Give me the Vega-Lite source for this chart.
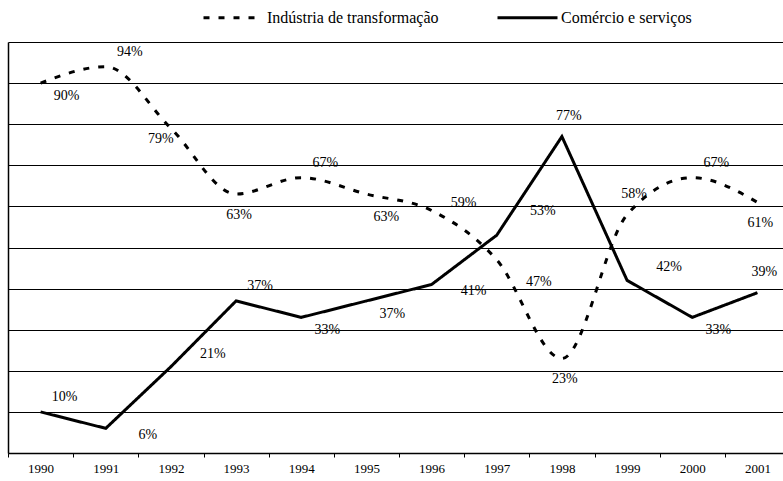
{
  "$schema": "https://vega.github.io/schema/vega-lite/v6.json",
  "width": 775,
  "height": 411,
  "autosize": {"type": "none"},
  "padding": {"left": 8, "top": 42, "right": 0, "bottom": 28},
  "background": "white",
  "config": {"view": {"stroke": null}, "font": "Liberation Serif"},
  "data": {
    "values": [
      {"ano": "1990", "serie": "Indústria de transformação", "v": 0.90},
      {"ano": "1991", "serie": "Indústria de transformação", "v": 0.94},
      {"ano": "1992", "serie": "Indústria de transformação", "v": 0.79},
      {"ano": "1993", "serie": "Indústria de transformação", "v": 0.63},
      {"ano": "1994", "serie": "Indústria de transformação", "v": 0.67},
      {"ano": "1995", "serie": "Indústria de transformação", "v": 0.63},
      {"ano": "1996", "serie": "Indústria de transformação", "v": 0.59},
      {"ano": "1997", "serie": "Indústria de transformação", "v": 0.47},
      {"ano": "1998", "serie": "Indústria de transformação", "v": 0.23},
      {"ano": "1999", "serie": "Indústria de transformação", "v": 0.58},
      {"ano": "2000", "serie": "Indústria de transformação", "v": 0.67},
      {"ano": "2001", "serie": "Indústria de transformação", "v": 0.61},
      {"ano": "1990", "serie": "Comércio e serviços", "v": 0.10},
      {"ano": "1991", "serie": "Comércio e serviços", "v": 0.06},
      {"ano": "1992", "serie": "Comércio e serviços", "v": 0.21},
      {"ano": "1993", "serie": "Comércio e serviços", "v": 0.37},
      {"ano": "1994", "serie": "Comércio e serviços", "v": 0.33},
      {"ano": "1995", "serie": "Comércio e serviços", "v": 0.37},
      {"ano": "1996", "serie": "Comércio e serviços", "v": 0.41},
      {"ano": "1997", "serie": "Comércio e serviços", "v": 0.53},
      {"ano": "1998", "serie": "Comércio e serviços", "v": 0.77},
      {"ano": "1999", "serie": "Comércio e serviços", "v": 0.42},
      {"ano": "2000", "serie": "Comércio e serviços", "v": 0.33},
      {"ano": "2001", "serie": "Comércio e serviços", "v": 0.39}
    ]
  },
  "encoding": {
    "x": {
      "field": "ano", "type": "ordinal",
      "scale": {"type": "band", "paddingInner": 0, "paddingOuter": 0, "range": [0, 782]},
      "axis": {"title": null, "labelAngle": 0, "tickBand": "extent", "domainColor": "black", "domainWidth": 1.5, "tickColor": "black", "tickSize": 4, "labelFontSize": 13, "labelFont": "Liberation Serif", "labelColor": "black", "labelPadding": 5}
    },
    "y": {
      "field": "v", "type": "quantitative",
      "scale": {"domain": [0, 1], "nice": false},
      "axis": {"title": null, "labels": false, "ticks": false, "values": [0, 0.1, 0.2, 0.3, 0.4, 0.5, 0.6, 0.7, 0.8, 0.9, 1], "grid": true, "gridColor": "black", "gridOpacity": 1, "gridWidth": 1, "domainColor": "black", "domainWidth": 1.5}
    }
  },
  "layer": [
    {
      "transform": [{"filter": "datum.serie == 'Indústria de transformação'"}],
      "mark": {"type": "line", "interpolate": "monotone", "color": "black", "strokeWidth": 3},
      "encoding": {
        "strokeDash": {
          "field": "serie", "type": "nominal",
          "scale": {"domain": ["Indústria de transformação", "Comércio e serviços"], "range": [[6, 9], [1, 0]]},
          "legend": {"title": null, "orient": "none", "legendX": 194, "legendY": -56, "direction": "horizontal", "symbolType": "stroke", "symbolSize": 3600, "symbolStrokeWidth": 3, "symbolStrokeColor": "black", "labelFontSize": 16, "labelFont": "Liberation Serif", "labelColor": "black", "labelLimit": 300, "columnPadding": 52, "labelOffset": 2}
        }
      }
    },
    {
      "transform": [{"filter": "datum.serie == 'Comércio e serviços'"}],
      "mark": {"type": "line", "color": "black", "strokeWidth": 3},
      "encoding": {
        "strokeDash": {"field": "serie", "type": "nominal", "scale": {"domain": ["Indústria de transformação", "Comércio e serviços"], "range": [[6, 9], [1, 0]]}}
      }
    },
    {
      "transform": [{"filter": "indexof(['I1991','I1994','I2000','C1990','C1993'], substring(datum.serie,0,1) + datum.ano) >= 0"}],
      "mark": {"type": "text", "fontSize": 14, "color": "black", "baseline": "middle", "align": "center", "dx": 24, "dy": -15},
      "encoding": {"text": {"field": "v", "type": "quantitative", "format": ".0%"}}
    },
    {
      "transform": [{"filter": "indexof(['C1994','C1995','C2000','I1990'], substring(datum.serie,0,1) + datum.ano) >= 0"}],
      "mark": {"type": "text", "fontSize": 14, "color": "black", "baseline": "middle", "align": "center", "dx": 26, "dy": 13},
      "encoding": {"text": {"field": "v", "type": "quantitative", "format": ".0%"}}
    },
    {
      "transform": [{"filter": "indexof(['I1993','I1998','I2001'], substring(datum.serie,0,1) + datum.ano) >= 0"}],
      "mark": {"type": "text", "fontSize": 14, "color": "black", "baseline": "middle", "align": "center", "dx": 3, "dy": 21},
      "encoding": {"text": {"field": "v", "type": "quantitative", "format": ".0%"}}
    },
    {
      "transform": [{"filter": "indexof(['I1995'], substring(datum.serie,0,1) + datum.ano) >= 0"}],
      "mark": {"type": "text", "fontSize": 14, "color": "black", "baseline": "middle", "align": "center", "dx": 20, "dy": 23},
      "encoding": {"text": {"field": "v", "type": "quantitative", "format": ".0%"}}
    },
    {
      "transform": [{"filter": "indexof(['C1998','C2001','I1999'], substring(datum.serie,0,1) + datum.ano) >= 0"}],
      "mark": {"type": "text", "fontSize": 14, "color": "black", "baseline": "middle", "align": "center", "dx": 7, "dy": -21},
      "encoding": {"text": {"field": "v", "type": "quantitative", "format": ".0%"}}
    },
    {
      "transform": [{"filter": "indexof(['C1992','C1999'], substring(datum.serie,0,1) + datum.ano) >= 0"}],
      "mark": {"type": "text", "fontSize": 14, "color": "black", "baseline": "middle", "align": "center", "dx": 42, "dy": -13},
      "encoding": {"text": {"field": "v", "type": "quantitative", "format": ".0%"}}
    },
    {
      "transform": [{"filter": "indexof(['I1996'], substring(datum.serie,0,1) + datum.ano) >= 0"}],
      "mark": {"type": "text", "fontSize": 14, "color": "black", "baseline": "middle", "align": "center", "dx": 32, "dy": -8},
      "encoding": {"text": {"field": "v", "type": "quantitative", "format": ".0%"}}
    },
    {
      "transform": [{"filter": "indexof(['C1997'], substring(datum.serie,0,1) + datum.ano) >= 0"}],
      "mark": {"type": "text", "fontSize": 14, "color": "black", "baseline": "middle", "align": "center", "dx": 46, "dy": -24},
      "encoding": {"text": {"field": "v", "type": "quantitative", "format": ".0%"}}
    },
    {
      "transform": [{"filter": "indexof(['C1991','C1996'], substring(datum.serie,0,1) + datum.ano) >= 0"}],
      "mark": {"type": "text", "fontSize": 14, "color": "black", "baseline": "middle", "align": "center", "dx": 42, "dy": 7},
      "encoding": {"text": {"field": "v", "type": "quantitative", "format": ".0%"}}
    },
    {
      "transform": [{"filter": "indexof(['I1997'], substring(datum.serie,0,1) + datum.ano) >= 0"}],
      "mark": {"type": "text", "fontSize": 14, "color": "black", "baseline": "middle", "align": "center", "dx": 42, "dy": 22},
      "encoding": {"text": {"field": "v", "type": "quantitative", "format": ".0%"}}
    },
    {
      "transform": [{"filter": "indexof(['I1992'], substring(datum.serie,0,1) + datum.ano) >= 0"}],
      "mark": {"type": "text", "fontSize": 14, "color": "black", "baseline": "middle", "align": "center", "dx": -10, "dy": 11},
      "encoding": {"text": {"field": "v", "type": "quantitative", "format": ".0%"}}
    }
  ]
}
